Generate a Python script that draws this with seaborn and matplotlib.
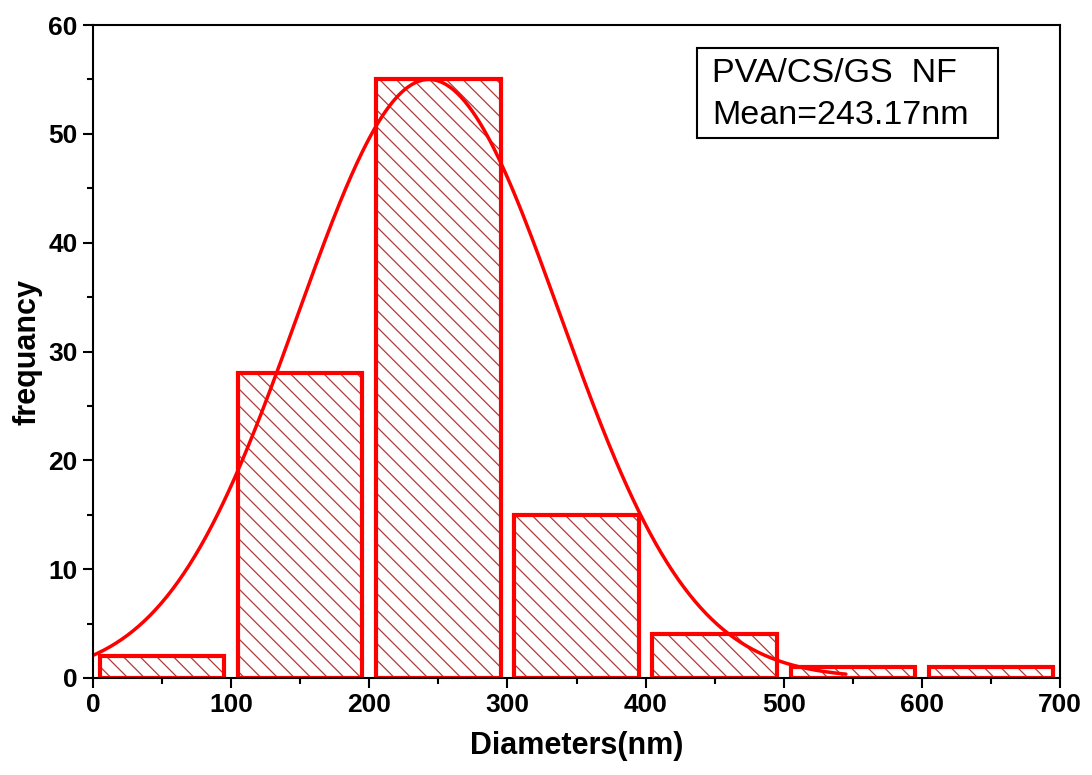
import numpy as np
import matplotlib
matplotlib.use('Agg')
import matplotlib.pyplot as plt
import seaborn as sns
from matplotlib.ticker import MultipleLocator
from matplotlib.patches import Rectangle

# histogram of fibre diameters
bin_edges = [0, 100, 200, 300, 400, 500, 600, 700]
bin_centers = [50, 150, 250, 350, 450, 550, 650]
counts = [2, 28, 55, 15, 4, 1, 1]

# gaussian fit parameters
fit_mean = 243.17
fit_sigma = 95.0
fit_amp = 55.0
fit_xmax = 545

box_lines = ['PVA/CS/GS  NF', 'Mean=243.17nm']

sns.set_style('ticks')
plt.rcParams['font.family'] = ['Liberation Sans', 'DejaVu Sans']
plt.rcParams['hatch.linewidth'] = 0.9
plt.rcParams['text.color'] = 'black'
plt.rcParams['axes.labelcolor'] = 'black'
plt.rcParams['xtick.color'] = 'black'
plt.rcParams['ytick.color'] = 'black'

fig = plt.figure(figsize=(10.92, 7.75), dpi=100)
ax = fig.add_axes([0.0852, 0.1252, 0.8855, 0.8425])

# hatch layer (dark red), then red outline on top
sns.histplot(x=bin_centers, weights=counts, bins=bin_edges, shrink=0.9,
             ax=ax, color='white', edgecolor='#b03a3a', linewidth=0,
             hatch=r'\\', alpha=1)
sns.histplot(x=bin_centers, weights=counts, bins=bin_edges, shrink=0.9,
             ax=ax, fill=False, color='#ff0000', edgecolor='#ff0000',
             linewidth=3)

xs = np.linspace(0, fit_xmax, 400)
ys = fit_amp * np.exp(-(xs - fit_mean) ** 2 / (2 * fit_sigma ** 2))
sns.lineplot(x=xs, y=ys, ax=ax, color='#ff0000', linewidth=2.5)

ax.set_xlim(0, 700)
ax.set_ylim(0, 60)
ax.xaxis.set_major_locator(MultipleLocator(100))
ax.xaxis.set_minor_locator(MultipleLocator(50))
ax.yaxis.set_major_locator(MultipleLocator(10))
ax.yaxis.set_minor_locator(MultipleLocator(5))
ax.tick_params(which='major', direction='out', length=7, width=1.5,
               labelsize=19, pad=4, colors='black')
ax.tick_params(which='minor', direction='out', length=4, width=1.5,
               colors='black')
for lab in ax.get_xticklabels() + ax.get_yticklabels():
    lab.set_fontweight('bold')
for sp in ax.spines.values():
    sp.set_visible(True)
    sp.set_linewidth(1.5)
    sp.set_color('black')

ax.set_xlabel('Diameters(nm)', fontsize=22, fontweight='bold', labelpad=10)
ax.set_ylabel('frequancy', fontsize=22, fontweight='bold', labelpad=4)

# annotation box
ax.add_patch(Rectangle((0.6246, 0.827), 0.3113, 0.1378, transform=ax.transAxes,
                       facecolor='white', edgecolor='black', linewidth=1.5,
                       zorder=5))
ax.text(0.640, 0.9265, box_lines[0], transform=ax.transAxes, fontsize=24.5,
        va='center', ha='left', zorder=6)
ax.text(0.640, 0.8622, box_lines[1], transform=ax.transAxes, fontsize=24.5,
        va='center', ha='left', zorder=6)

fig.savefig('out.png', dpi=100)
